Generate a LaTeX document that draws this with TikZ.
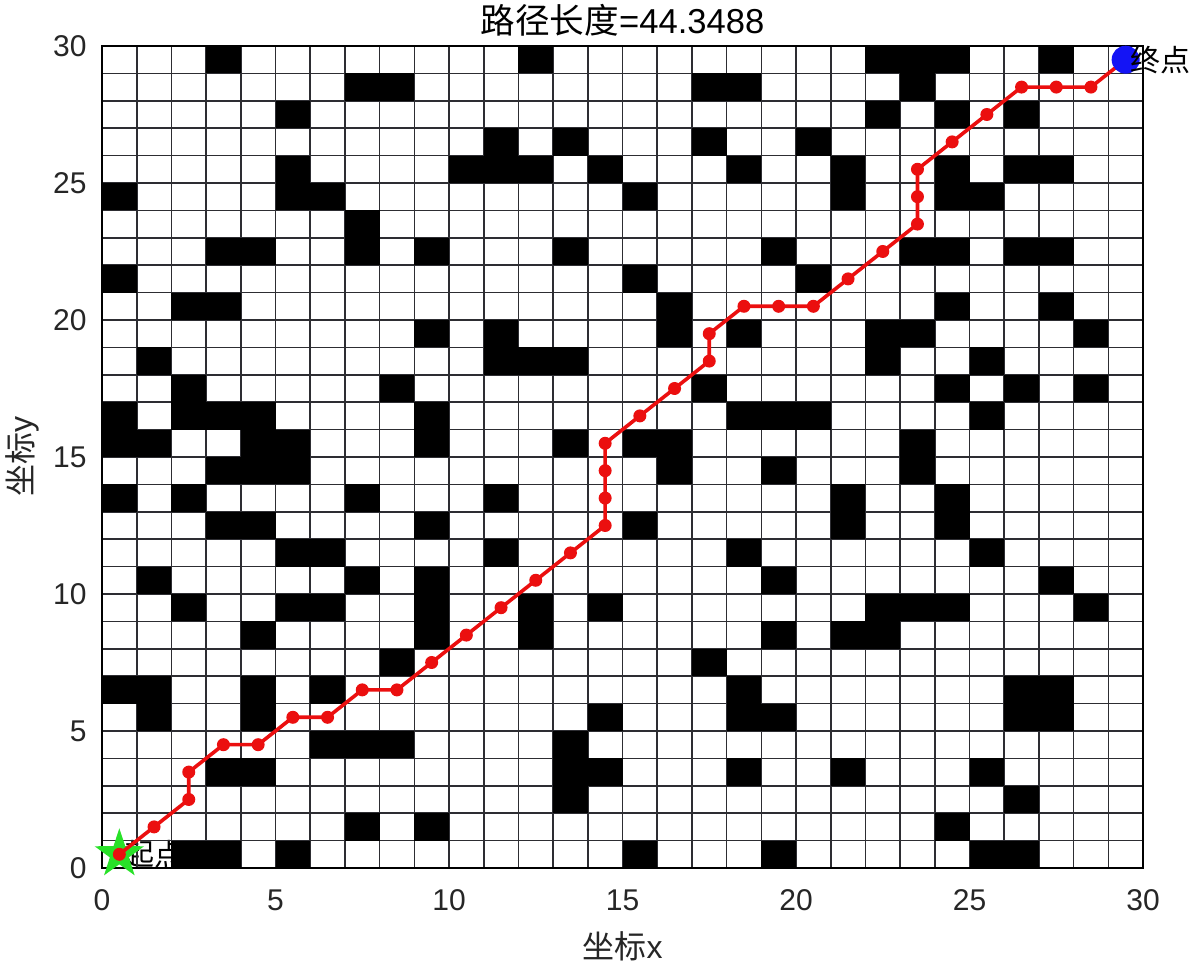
\documentclass[tikz,border=0pt]{standalone}
\usepackage{fontspec}
\setmainfont{Liberation Sans}
\newfontfamily\cjk{Noto Sans CJK SC}
\usetikzlibrary{shapes.geometric}
\definecolor{pathred}{RGB}{235,15,15}
\definecolor{startgreen}{RGB}{40,225,40}
\definecolor{endblue}{RGB}{20,20,245}
\definecolor{gridgray}{RGB}{45,45,50}
\tikzset{
  ticklab/.style={inner sep=0pt, font=\fontsize{15pt}{18pt}\selectfont, text=black!85},
  axlab/.style={inner sep=0pt, font=\fontsize{16pt}{19pt}\selectfont, text=black!85},
  titlelab/.style={inner sep=0pt, font=\fontsize{17.3pt}{21pt}\selectfont, text=black},
  marklab/.style={inner sep=0pt, anchor=west, font=\cjk\fontsize{15pt}{18pt}\selectfont, text=black},
  gridline/.style={draw=gridgray, line width=0.8pt},
  pathline/.style={draw=pathred, line width=1.8pt, line join=round},
  pathdot/.style={circle, fill=pathred, inner sep=0pt, minimum size=6.5pt},
  startmark/.style={star, star points=5, star point ratio=2.6, fill=startgreen, inner sep=0pt, minimum size=26pt},
  endmark/.style={circle, fill=endblue, inner sep=0pt, minimum size=14pt}
}
\begin{document}
\begin{tikzpicture}[x=0.5pt,y=0.5pt]
\useasboundingbox (0,0) rectangle (1193,968);
\fill[white] (0,0) rectangle (1193,968);
\begin{scope}[shift={(51pt,50pt)},x=17.35pt,y=13.7pt]
  \fill[white] (0,0) rectangle (30,30);
  % start label (drawn beneath the grid and obstacles)
  \node[marklab, xshift=2.5pt] (startlab) at (0.5,0.5) {起点};
  \draw[gridline, step=1] (0,0) grid (30,30);
  % obstacles
  \foreach \r/\cols in {
    29/{3,12,22,23,24,27},
    28/{7,8,17,18,23},
    27/{5,22,24,26},
    26/{11,13,17,20},
    25/{5,10,11,12,14,18,21,24,26,27},
    24/{0,5,6,15,21,24,25},
    23/{7},
    22/{3,4,7,9,13,19,23,24,26,27},
    21/{0,15,20},
    20/{2,3,16,24,27},
    19/{9,11,16,18,22,23,28},
    18/{1,11,12,13,22,25},
    17/{2,8,17,24,26,28},
    16/{0,2,3,4,9,18,19,20,25},
    15/{0,1,4,5,9,13,15,16,23},
    14/{3,4,5,16,19,23},
    13/{0,2,7,11,21,24},
    12/{3,4,9,15,21,24},
    11/{5,6,11,18,25},
    10/{1,7,9,19,27},
    9/{2,5,6,9,12,14,22,23,24,28},
    8/{4,9,12,19,21,22},
    7/{8,17},
    6/{0,1,4,6,18,26,27},
    5/{1,4,14,18,19,26,27},
    4/{6,7,8,13},
    3/{3,4,13,14,18,21,25},
    2/{13,26},
    1/{7,9,24},
    0/{2,3,5,15,19,25,26}}{
    \foreach \c in \cols { \fill[black] (\c,\r) rectangle ++(1,1); }
  }
  \draw[black, line width=0.8pt] (0,0) rectangle (30,30);
  % ticks labels
  \foreach \v in {0,5,...,30} {
    \node[ticklab, yshift=-16pt] (xt\v) at (\v,0) {\v};
    \node[ticklab, anchor=east, xshift=-7.5pt] (yt\v) at (0,\v) {\v};
  }
  % start marker
  \node[startmark] (start) at (0.5,0.5) {};
  % path
  \draw[pathline] plot coordinates {(0.5,0.5) (1.5,1.5) (2.5,2.5) (2.5,3.5) (3.5,4.5) (4.5,4.5) (5.5,5.5) (6.5,5.5) (7.5,6.5) (8.5,6.5) (9.5,7.5) (10.5,8.5) (11.5,9.5) (12.5,10.5) (13.5,11.5) (14.5,12.5) (14.5,13.5) (14.5,14.5) (14.5,15.5) (15.5,16.5) (16.5,17.5) (17.5,18.5) (17.5,19.5) (18.5,20.5) (19.5,20.5) (20.5,20.5) (21.5,21.5) (22.5,22.5) (23.5,23.5) (23.5,24.5) (23.5,25.5) (24.5,26.5) (25.5,27.5) (26.5,28.5) (27.5,28.5) (28.5,28.5) (29.5,29.5)};
  \foreach \px/\py [count=\i] in {0.5/0.5, 1.5/1.5, 2.5/2.5, 2.5/3.5, 3.5/4.5, 4.5/4.5, 5.5/5.5, 6.5/5.5, 7.5/6.5, 8.5/6.5, 9.5/7.5, 10.5/8.5, 11.5/9.5, 12.5/10.5, 13.5/11.5, 14.5/12.5, 14.5/13.5, 14.5/14.5, 14.5/15.5, 15.5/16.5, 16.5/17.5, 17.5/18.5, 17.5/19.5, 18.5/20.5, 19.5/20.5, 20.5/20.5, 21.5/21.5, 22.5/22.5, 23.5/23.5, 23.5/24.5, 23.5/25.5, 24.5/26.5, 25.5/27.5, 26.5/28.5, 27.5/28.5, 28.5/28.5} {
    \node[pathdot] (p\i) at (\px,\py) {};
  }
  % end marker
  \node[endmark] (goal) at (29.5,29.5) {};
  \node[marklab, xshift=2pt] (goallab) at (29.5,29.5) {终点};
\end{scope}
\node[titlelab] (title) at (622.5,948) {{\cjk 路径长度}=44.3488};
\node[axlab] (xlab) at (622.5,22) {{\cjk 坐标}x};
\node[axlab, rotate=90] (ylab) at (22,511) {{\cjk 坐标}y};
\end{tikzpicture}
\end{document}
